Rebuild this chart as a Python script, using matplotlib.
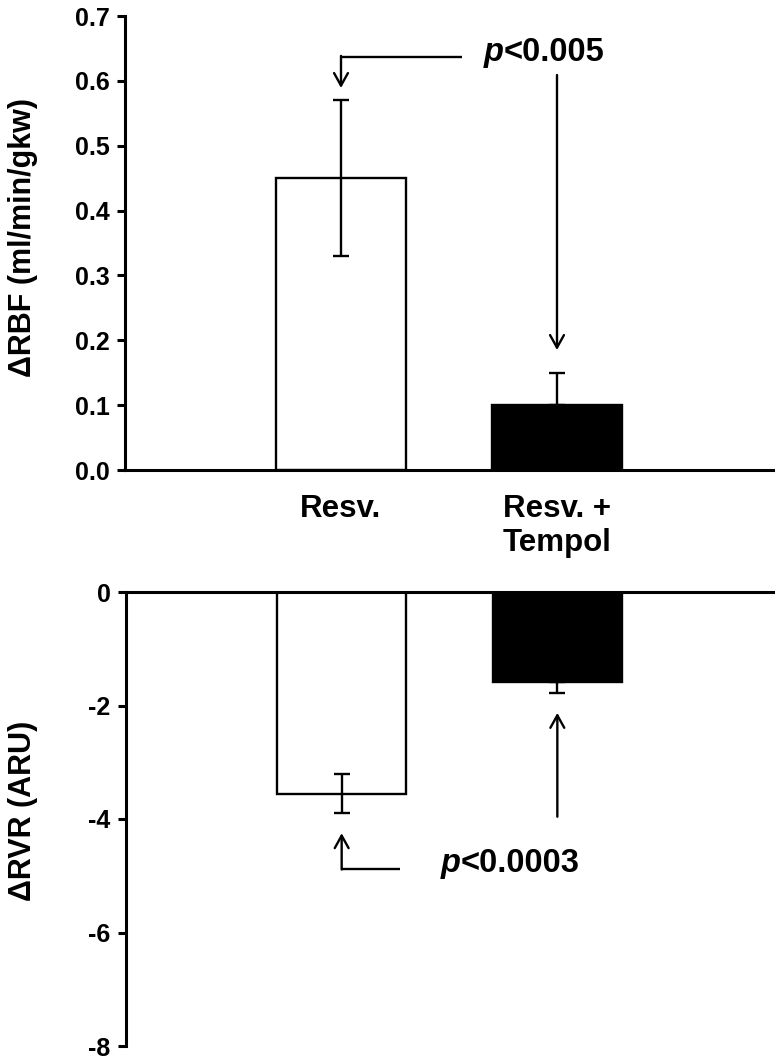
import matplotlib.pyplot as plt
from matplotlib.patches import FancyArrowPatch

plt.rcParams['font.family'] = ['Liberation Sans', 'DejaVu Sans']
plt.rcParams['font.weight'] = 'bold'

# data
groups = ['Resv.', 'Resv. +\nTempol']
rbf = [0.45, 0.10]
rbf_err_lo = [0.12, 0.0]
rbf_err_hi = [0.12, 0.05]
rvr = [-3.56, -1.59]
rvr_err_lo = [0.33, 0.19]
rvr_err_hi = [0.35, 0.0]
bar_colors = ['white', 'black']

pos = [1, 2]
lw_axis = 2.2
lw = 1.7


def arrow(ax, start, end):
    a = FancyArrowPatch(start, end, arrowstyle='->,head_length=0.45,head_width=0.25',
                        mutation_scale=20, lw=lw, color='black',
                        shrinkA=0, shrinkB=0, zorder=5)
    ax.add_patch(a)


fig = plt.figure(figsize=(7.77, 10.61), dpi=100)
W, H = 777, 1061
ax1 = fig.add_axes([125 / W, 1 - 470 / H, 648 / W, 454 / H])
ax2 = fig.add_axes([126 / W, 1 - 1046 / H, 647 / W, 454 / H])

# top panel: RBF
ax1.bar(pos, rbf, width=0.6, color=bar_colors, edgecolor='black', linewidth=lw, zorder=2)
ax1.errorbar(pos, rbf, yerr=[rbf_err_lo, rbf_err_hi], fmt='none', ecolor='black',
             elinewidth=lw, capsize=6, capthick=lw, zorder=3)
ax1.set_xlim(0, 3)
ax1.set_ylim(0, 0.7)
ax1.set_yticks([0.0, 0.1, 0.2, 0.3, 0.4, 0.5, 0.6, 0.7])
ax1.set_yticklabels(['0.0', '0.1', '0.2', '0.3', '0.4', '0.5', '0.6', '0.7'])
ax1.set_xticks(pos)
ax1.set_xticklabels(groups, fontsize=22.5, fontweight='bold', linespacing=1.2)
ax1.tick_params(axis='x', length=0, pad=17)
ax1.set_ylabel('ΔRBF (ml/min/gkw)', fontsize=22, fontweight='bold')
ax1.yaxis.set_label_coords(-0.134, 0.513)
for s in ['top', 'right']:
    ax1.spines[s].set_visible(False)
for s in ['left', 'bottom']:
    ax1.spines[s].set_linewidth(lw_axis)

ax1.plot([1.56, 1.0], [0.637, 0.637], color='black', lw=lw, solid_capstyle='butt', zorder=5)
arrow(ax1, (1.0, 0.637 + 0.0015), (1.0, 0.589))
arrow(ax1, (2.0, 0.609), (2.0, 0.185))

# bottom panel: RVR
ax2.bar(pos, rvr, width=0.6, color=bar_colors, edgecolor='black', linewidth=lw, zorder=2)
ax2.errorbar(pos, rvr, yerr=[rvr_err_lo, rvr_err_hi], fmt='none', ecolor='black',
             elinewidth=lw, capsize=6, capthick=lw, zorder=3)
ax2.set_xlim(0, 3)
ax2.set_ylim(-8, 0)
ax2.set_yticks([-8, -6, -4, -2, 0])
ax2.set_yticklabels(['-8', '-6', '-4', '-2', '0'])
ax2.set_xticks([])
ax2.set_ylabel('ΔRVR (ARU)', fontsize=22, fontweight='bold')
ax2.yaxis.set_label_coords(-0.136, 0.518)
for s in ['bottom', 'right']:
    ax2.spines[s].set_visible(False)
for s in ['left', 'top']:
    ax2.spines[s].set_linewidth(lw_axis)

ax2.plot([1.27, 1.0], [-4.88, -4.88], color='black', lw=lw, solid_capstyle='butt', zorder=5)
arrow(ax2, (1.0, -4.88 - 0.01), (1.0, -4.25))
arrow(ax2, (2.0, -3.96), (2.0, -2.13))

for ax in (ax1, ax2):
    ax.tick_params(axis='y', direction='out', length=6, width=lw_axis, pad=5)
    for t in ax.get_yticklabels():
        t.set_fontsize(18)
        t.set_fontweight('bold')

# p-value labels: italic p followed by upright text
fig.canvas.draw()
for ax, x, y, rest in [(ax1, 1.663, 0.643, '<0.005'), (ax2, 1.46, -4.79, '<0.0003')]:
    tp = ax.text(x, y, 'p', fontsize=23.5, fontweight='bold', fontstyle='italic',
                 va='center', ha='left')
    bb = tp.get_window_extent(renderer=fig.canvas.get_renderer())
    x_end = ax.transData.inverted().transform((bb.x1, 0))[0]
    ax.text(x_end, y, rest, fontsize=23.5, fontweight='bold', va='center', ha='left')

fig.savefig('out.png', dpi=100)
